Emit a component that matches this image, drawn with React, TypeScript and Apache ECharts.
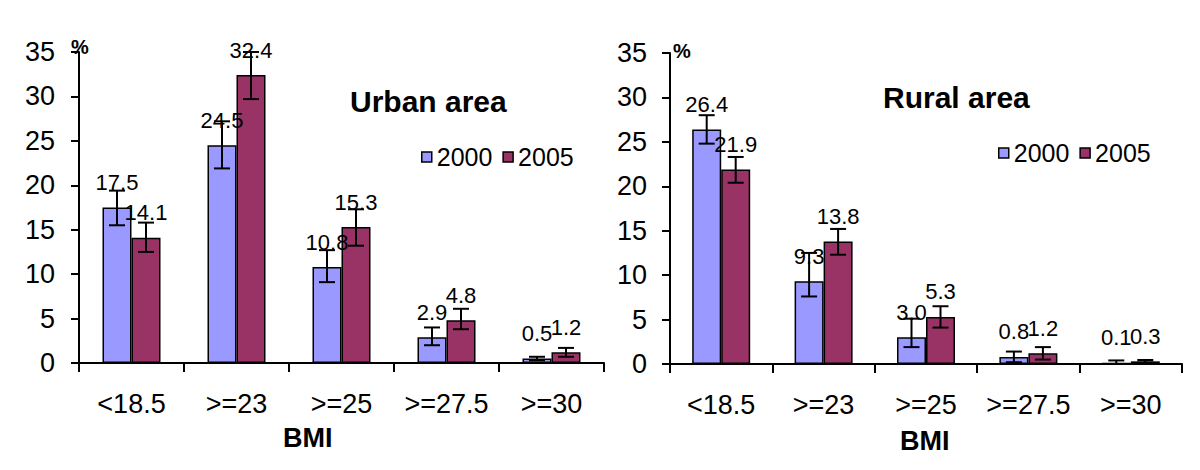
import React, { useEffect, useRef } from "react";
import * as echarts from "echarts";

const categories = ["<18.5", ">=23", ">=25", ">=27.5", ">=30"];
const seriesNames = ["2000", "2005"];

const urban2000 = [17.5, 24.5, 10.8, 2.9, 0.5];
const urban2005 = [14.1, 32.4, 15.3, 4.8, 1.2];
const rural2000 = [26.4, 9.3, 3.0, 0.8, 0.1];
const rural2005 = [21.9, 13.8, 5.3, 1.2, 0.3];

const urban2000Low = [15.5, 21.9, 9.1, 2.0, 0.3];
const urban2000High = [19.4, 27.2, 12.7, 4.0, 0.7];
const urban2005Low = [12.5, 29.7, 13.2, 3.8, 0.7];
const urban2005High = [15.8, 35.0, 17.3, 6.1, 1.7];
const rural2000Low = [24.8, 7.6, 1.9, 0.2, 0];
const rural2000High = [28.0, 12.5, 5.1, 1.4, 0.4];
const rural2005Low = [20.4, 12.3, 4.1, 0.5, 0.15];
const rural2005High = [23.3, 15.2, 6.5, 1.9, 0.45];

const yTicks = { min: 0, max: 35, interval: 5 };

const FONT = "'Liberation Sans', Arial, sans-serif";
const BLUE = "#9999FF";
const RED = "#993366";
const BAR_W = 29;

function errData(low: number[], high: number[]) {
  return low.map((l, i) => [i, l, high[i]]);
}

function errSeries(idx: number, low: number[], high: number[], offset: number) {
  return {
    type: "custom",
    xAxisIndex: idx,
    yAxisIndex: idx,
    z: 5,
    silent: true,
    encode: { x: 0, y: [1, 2] },
    data: errData(low, high),
    renderItem: (params: any, api: any) => {
      const cat = api.value(0);
      const top = api.coord([cat, api.value(2)]);
      const bot = api.coord([cat, api.value(1)]);
      const x = top[0] + offset;
      const cap = 8;
      const style = { stroke: "#000", lineWidth: 2 };
      return {
        type: "group",
        children: [
          { type: "line", shape: { x1: x, y1: top[1], x2: x, y2: bot[1] }, style },
          { type: "line", shape: { x1: x - cap, y1: top[1], x2: x + cap, y2: top[1] }, style },
          { type: "line", shape: { x1: x - cap, y1: bot[1], x2: x + cap, y2: bot[1] }, style },
        ],
      };
    },
  };
}

function barSeries(idx: number, name: string, data: number[], color: string) {
  return {
    type: "bar",
    name,
    xAxisIndex: idx,
    yAxisIndex: idx,
    data,
    barWidth: BAR_W,
    barGap: "0%",
    z: 2,
    itemStyle: { color, borderColor: "#000", borderWidth: 1.5 },
    label: {
      show: true,
      position: "top",
      distance: 14,
      fontSize: 22,
      fontFamily: FONT,
      color: "#000",
      formatter: (p: any) => Number(p.value).toFixed(1),
    },
  };
}

function xAxis(idx: number) {
  return {
    type: "category",
    gridIndex: idx,
    data: categories,
    axisLine: { lineStyle: { color: "#000", width: 2 } },
    axisTick: { show: true, length: 9, lineStyle: { color: "#000", width: 2 } },
    axisLabel: { interval: 0, fontSize: 27, fontFamily: FONT, color: "#000", margin: 27 },
  };
}

function yAxis(idx: number, margin: number) {
  return {
    type: "value",
    gridIndex: idx,
    min: yTicks.min,
    max: yTicks.max,
    interval: yTicks.interval,
    splitLine: { show: false },
    axisLine: { show: true, lineStyle: { color: "#000", width: 2 } },
    axisTick: { show: true, length: 8, lineStyle: { color: "#000", width: 2 } },
    axisLabel: { fontSize: 27, fontFamily: FONT, color: "#000", margin },
  };
}

function legend(left: number, top: number) {
  return {
    left,
    top,
    padding: 0,
    itemWidth: 10,
    itemHeight: 10,
    itemGap: 10,
    icon: "rect",
    data: seriesNames,
    selectedMode: false,
    itemStyle: { borderColor: "#000", borderWidth: 1.5 },
    textStyle: { fontSize: 25, fontFamily: FONT, color: "#000", lineHeight: 26 },
  };
}

export default function App() {
  const ref = useRef<HTMLDivElement>(null);
  useEffect(() => {
    if (!ref.current) return;
    const chart = echarts.init(ref.current, null, { renderer: "svg" });
    chart.setOption({
      animation: false,
      backgroundColor: "#fff",
      title: [
        {
          text: "Urban area",
          left: 350,
          top: 86,
          padding: 0,
          textStyle: { fontSize: 30, fontWeight: "bold", fontFamily: FONT, color: "#000" },
        },
        {
          text: "Rural area",
          left: 883,
          top: 82,
          padding: 0,
          textStyle: { fontSize: 30, fontWeight: "bold", fontFamily: FONT, color: "#000" },
        },
      ],
      legend: [legend(421, 144), legend(998, 140)],
      grid: [
        { left: 79, top: 52, width: 525, height: 311, containLabel: false },
        { left: 670, top: 53, width: 512, height: 311, containLabel: false },
      ],
      xAxis: [xAxis(0), xAxis(1)],
      yAxis: [yAxis(0, 24), yAxis(1, 23)],
      series: [
        barSeries(0, seriesNames[0], urban2000, BLUE),
        barSeries(0, seriesNames[1], urban2005, RED),
        barSeries(1, seriesNames[0], rural2000, BLUE),
        barSeries(1, seriesNames[1], rural2005, RED),
        errSeries(0, urban2000Low, urban2000High, -BAR_W / 2),
        errSeries(0, urban2005Low, urban2005High, BAR_W / 2),
        errSeries(1, rural2000Low, rural2000High, -BAR_W / 2),
        errSeries(1, rural2005Low, rural2005High, BAR_W / 2),
      ],
      graphic: [
        {
          type: "text",
          left: 71,
          top: 37,
          style: { text: "%", fontSize: 20, fontWeight: "bold", fontFamily: FONT, fill: "#000" },
        },
        {
          type: "text",
          left: 673,
          top: 41,
          style: { text: "%", fontSize: 20, fontWeight: "bold", fontFamily: FONT, fill: "#000" },
        },
        {
          type: "text",
          left: 283,
          top: 424,
          style: { text: "BMI", fontSize: 27, fontWeight: "bold", fontFamily: FONT, fill: "#000" },
        },
        {
          type: "text",
          left: 900,
          top: 427,
          style: { text: "BMI", fontSize: 27, fontWeight: "bold", fontFamily: FONT, fill: "#000" },
        },
      ],
    });
    return () => chart.dispose();
  }, []);
  return (
    <div
      ref={ref}
      style={{ position: "fixed", left: 0, top: 0, width: 1200, height: 470, background: "#fff" }}
    />
  );
}
